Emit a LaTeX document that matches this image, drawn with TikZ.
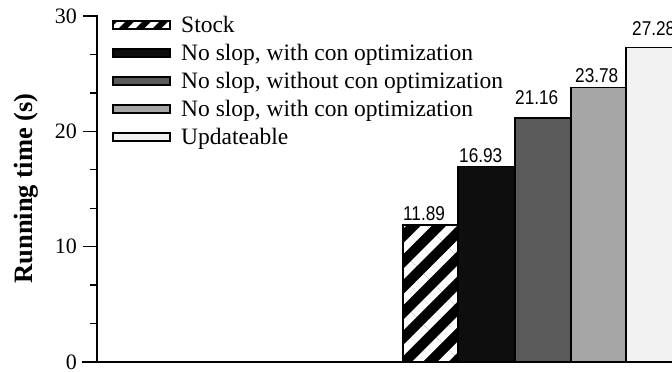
\documentclass[tikz,border=0pt]{standalone}
\usepackage{fontspec}
\setmainfont{Liberation Serif}
\newfontfamily\valfont[FakeStretch=0.86]{Liberation Sans}
\usetikzlibrary{patterns.meta}
\definecolor{cblack}{HTML}{0E0E0E}
\definecolor{cdark}{HTML}{5A5A5A}
\definecolor{clight}{HTML}{A6A6A6}
\definecolor{cpale}{HTML}{F2F2F2}
\tikzset{
  barline/.style={draw=black,line width=1.3pt},
  axisline/.style={line width=1.5pt,line cap=rect},
  tickline/.style={line width=1.3pt},
  valtext/.style={font=\valfont\fontsize{20}{24}\selectfont,anchor=base west,inner sep=0pt},
  legtext/.style={font=\fontsize{23.5}{28}\selectfont,anchor=base west,inner sep=0pt},
  ticktext/.style={font=\fontsize{22}{26}\selectfont,anchor=east,inner sep=0pt},
  stripes/.style={pattern={Lines[angle=45,distance=#1,line width=0.42*#1]},pattern color=white}
}
\begin{document}
\begin{tikzpicture}[x=1pt,y=-1pt]
\useasboundingbox (0,0) rectangle (672,372);
\clip (0,0) rectangle (672,372);
% bars
\fill[black] (403,224.9) rectangle (458,362);
\fill[stripes=18pt] (403,224.9) rectangle (458,362);
\draw[barline] (403,224.9) rectangle (458,362);
\filldraw[barline,fill=cblack] (458,166.8) rectangle (515,362);
\filldraw[barline,fill=cdark] (515,118.0) rectangle (571,362);
\filldraw[barline,fill=clight] (571,87.8) rectangle (626,362);
\filldraw[barline,fill=cpale] (626,47.5) rectangle (684,362);
% value labels
\node[valtext] (v1) at (403,220) {11.89};
\node[valtext] (v2) at (459,162) {16.93};
\node[valtext] (v3) at (515,104) {21.16};
\node[valtext] (v4) at (575,82) {23.78};
\node[valtext] (v5) at (632,35) {27.28};
% axes
\draw[axisline] (97,16.1) -- (97,362) -- (680,362);
\draw[axisline] (83,362) -- (97,362);
\foreach \v in {10,20,30} {
  \draw[tickline] (83,{362-11.53*\v}) -- (97,{362-11.53*\v});
}
\foreach \v in {3.333,6.667,13.333,16.667,23.333,26.667} {
  \draw[tickline] (90,{362-11.53*\v}) -- (97,{362-11.53*\v});
}
\node[ticktext] (t0) at (77,362) {0};
\node[ticktext] (t10) at (77,246.7) {10};
\node[ticktext] (t20) at (77,131.4) {20};
\node[ticktext] (t30) at (77,16.1) {30};
\node[font=\bfseries\fontsize{26.5}{30}\selectfont,rotate=90,anchor=base,inner sep=0pt] (ylab) at (32,188.5) {Running time (s)};
% legend
\fill[white] (113,21) rectangle (170,29);
\fill[pattern={Lines[angle=45,distance=12pt,line width=6pt]},pattern color=black] (113,21) rectangle (170,29);
\draw[barline,line width=1.1pt] (113,21) rectangle (170,29);
\filldraw[barline,line width=1.1pt,fill=cblack] (113,49) rectangle (170,57);
\filldraw[barline,line width=1.1pt,fill=cdark] (113,77) rectangle (170,85);
\filldraw[barline,line width=1.1pt,fill=clight] (113,105) rectangle (170,113);
\filldraw[barline,line width=1.1pt,fill=cpale] (113,133) rectangle (170,141);
\node[legtext] (l1) at (181,32.5) {Stock};
\node[legtext] (l2) at (181,60.5) {No slop, with con optimization};
\node[legtext] (l3) at (181,88.5) {No slop, without con optimization};
\node[legtext] (l4) at (181,116.5) {No slop, with con optimization};
\node[legtext] (l5) at (181,144.5) {Updateable};
\end{tikzpicture}
\end{document}
